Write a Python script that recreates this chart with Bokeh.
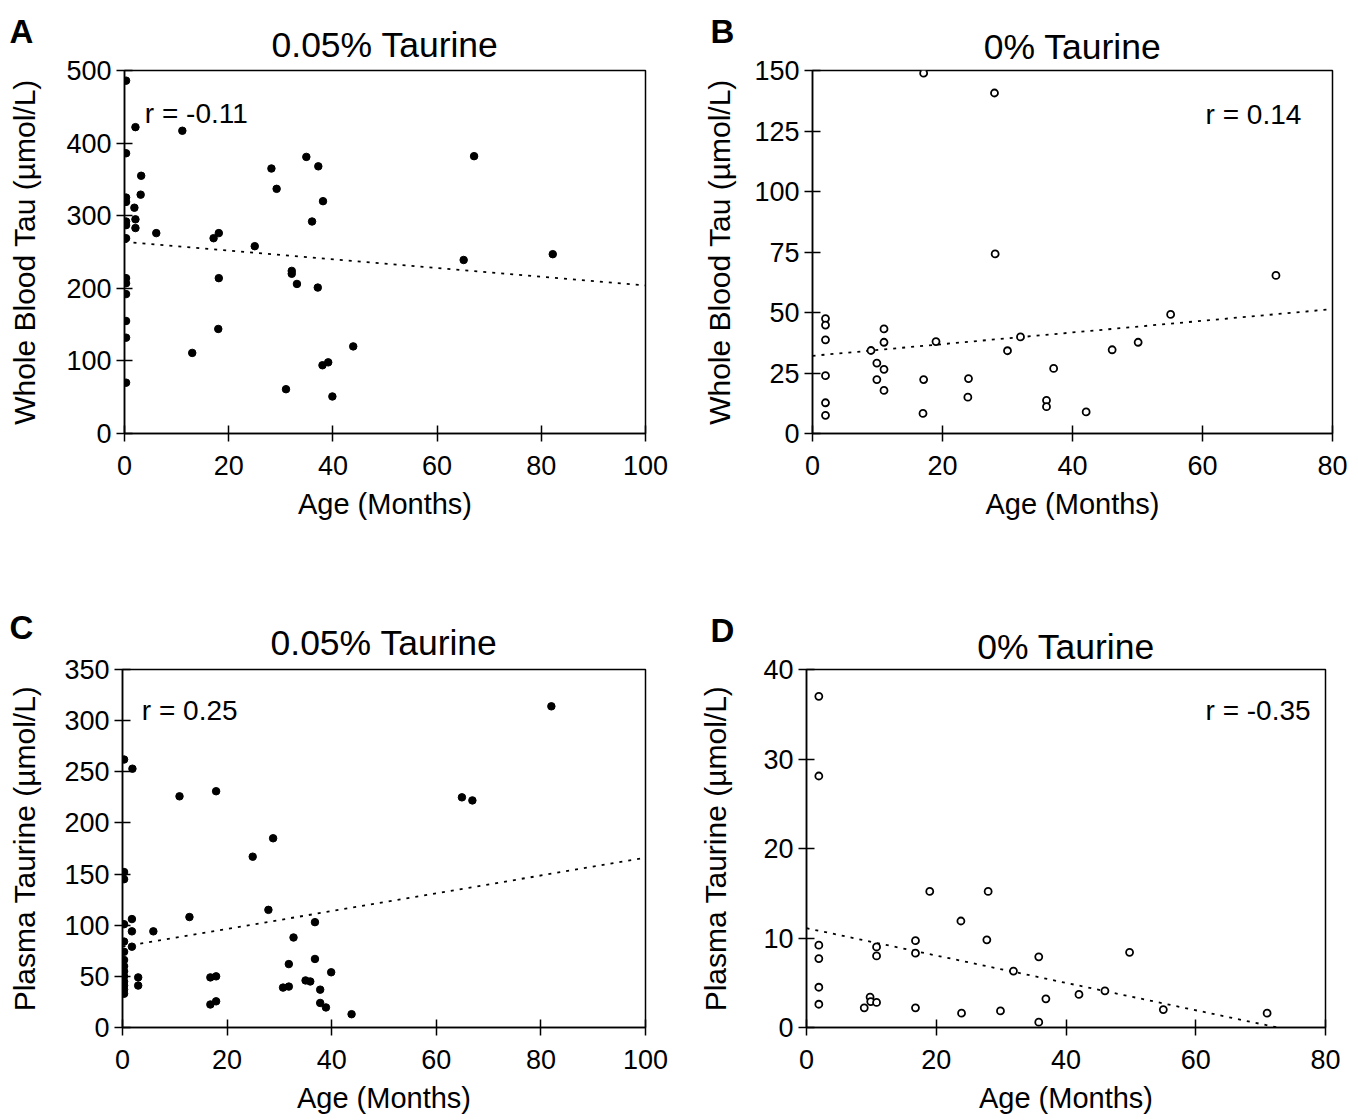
from bokeh.plotting import figure
from bokeh.layouts import row, column
from bokeh.models import Range1d, FixedTicker, Label, Title
from bokeh.embed import file_html
from bokeh.resources import INLINE

FONT = "Liberation Sans"

# ---------------- data ----------------
# Panel A: whole blood taurine, 0.05% taurine diet
a_age = [0.3, 0.3, 0.3, 0.3, 0.3, 0.3, 0.3, 0.3, 0.3, 0.3, 0.3, 0.3, 0.3,
         2.1, 11.1, 34.9, 3.2, 28.2, 29.2, 3.1, 1.9, 2.1, 2.1, 6.1, 17.1,
         18.1, 25.0, 32.1, 32.1, 33.1, 18.1, 18.0, 13.0, 31.0, 37.2, 38.1,
         36.0, 37.1, 43.9, 38.0, 39.1, 39.9, 67.1, 65.1, 82.2]
a_tau = [486, 386, 325, 319, 292, 287, 269, 214, 207, 192, 155, 132, 70,
         422, 417, 381, 355, 365, 337, 329, 311, 295, 283, 276, 269,
         276, 258, 224, 220, 206, 214, 144, 111, 61, 368, 320,
         292, 201, 120, 94, 98, 51, 382, 239, 247]
a_fit_age = [0, 100]
a_fit_tau = [264, 204]
a_r = "r = -0.11"

# Panel B: whole blood taurine, 0% taurine diet
b_age = [2, 2, 2, 2, 2, 2, 9, 11, 11, 9.9, 11, 9.9, 11, 17.1, 17, 19, 24,
         23.9, 30, 32, 36, 36, 37.1, 42.1, 46.1, 50.1, 55.1, 17.1, 28, 28.1, 71.3]
b_tau = [47.5, 44.8, 38.7, 23.9, 12.7, 7.5, 34.3, 43.2, 37.7, 29.1, 26.5, 22.3,
         17.8, 22.3, 8.3, 38, 22.7, 15, 34.2, 39.9, 13.7, 11.1, 26.9, 8.9,
         34.6, 37.7, 49.2, 148.9, 140.7, 74.2, 65.3]
b_fit_age = [0, 80]
b_fit_tau = [32.1, 51.4]
b_r = "r = 0.14"

# Panel C: plasma taurine, 0.05% taurine diet
c_age = [0.3, 0.3, 0.3, 0.3, 0.3, 0.3, 0.3, 0.3, 0.3, 0.3, 0.3, 0.3, 0.3, 0.3,
         1.9, 10.9, 17.9, 28.8, 24.9, 27.9, 12.8, 1.8, 1.8, 5.9, 32.7, 1.8,
         31.8, 3.0, 3.0, 16.8, 17.9, 16.8, 17.9, 30.7, 31.8, 35.0, 35.9,
         36.8, 36.8, 39.9, 37.8, 37.8, 38.9, 43.8, 64.9, 66.9, 82.0]
c_tau = [262, 152, 145, 101, 84, 74, 66, 60, 55, 50, 45, 41, 37, 33,
         253, 226, 231, 185, 167, 115, 108, 106, 94, 94, 88, 79,
         62, 49, 41, 22.5, 25.6, 49, 50, 39, 40, 46, 45,
         103, 67, 54, 37, 24, 19.6, 13, 225, 222, 314]
c_fit_age = [0, 100]
c_fit_tau = [79, 166]
c_r = "r = 0.25"

# Panel D: plasma taurine, 0% taurine diet
d_age = [1.9, 1.9, 1.9, 1.9, 1.9, 1.9, 8.9, 9.8, 9.9, 10.8, 10.8, 10.8, 16.8,
         16.8, 16.8, 19, 28, 23.8, 23.9, 27.8, 29.9, 31.9, 35.8, 36.9, 35.8,
         42, 46, 49.8, 55, 71]
d_tau = [37.0, 28.1, 9.2, 7.7, 4.5, 2.6, 2.2, 3.4, 2.9, 2.8, 9.0, 8.0, 9.7,
         8.3, 2.2, 15.2, 15.2, 11.9, 1.6, 9.8, 1.85, 6.3, 7.9, 3.2, 0.6,
         3.7, 4.1, 8.4, 2.0, 1.6]
d_fit_age = [0, 72.6]
d_fit_tau = [11.1, 0]
d_r = "r = -0.35"

titles = ["0.05% Taurine", "0% Taurine", "0.05% Taurine", "0% Taurine"]
letters = ["A", "B", "C", "D"]
x_label = "Age (Months)"
y_label_blood = "Whole Blood Tau (\u00b5mol/L)"
y_label_plasma = "Plasma Taurine (\u00b5mol/L)"
x_ticks_100 = [0, 20, 40, 60, 80, 100]
x_ticks_80 = [0, 20, 40, 60, 80]
a_y_ticks = [0, 100, 200, 300, 400, 500]
b_y_ticks = [0, 25, 50, 75, 100, 125, 150]
c_y_ticks = [0, 50, 100, 150, 200, 250, 300, 350]
d_y_ticks = [0, 10, 20, 30, 40]


def panel(width, height, bl, br, bt, bb, xmax, ymax, xticks, yticks, ylabel,
          title, letter, letter_offset, letter_standoff, title_standoff,
          ax, ay, fx, fy, rtext, rxy, ralign, filled, ylabel_standoff):
    p = figure(width=width, height=height, output_backend="svg",
               toolbar_location=None, x_range=Range1d(0, xmax),
               y_range=Range1d(0, ymax), min_border_left=bl,
               min_border_right=br, min_border_top=bt, min_border_bottom=bb,
               title=letter)
    # panel letter (outer title row, left of the frame)
    p.title.align = "left"
    p.title.vertical_align = "bottom"
    p.title.offset = letter_offset
    p.title.standoff = letter_standoff
    p.title.text_font = FONT
    p.title.text_font_size = "33px"
    p.title.text_font_style = "bold"
    p.title.text_color = "black"
    # panel title (inner title row)
    p.add_layout(Title(text=title, align="center", vertical_align="bottom",
                       standoff=title_standoff, text_font=FONT,
                       text_font_size="35.5px", text_font_style="normal",
                       text_color="black"), "above")
    p.grid.visible = False
    p.outline_line_color = "black"
    p.outline_line_width = 1.5
    p.background_fill_color = "white"
    p.border_fill_color = "white"
    for axis in (p.xaxis[0], p.yaxis[0]):
        axis.axis_line_width = 1.5
        axis.axis_line_color = "black"
        axis.major_tick_line_width = 1.5
        axis.major_tick_line_color = "black"
        axis.major_tick_in = 8
        axis.major_tick_out = 8
        axis.minor_tick_line_color = None
        axis.major_label_text_font = FONT
        axis.major_label_text_font_size = "27px"
        axis.major_label_text_color = "black"
        axis.axis_label_text_font = FONT
        axis.axis_label_text_font_style = "normal"
        axis.axis_label_text_color = "black"
    p.xaxis.axis_label_text_font_size = "29px"
    p.yaxis.axis_label_text_font_size = "30px"
    p.xaxis.ticker = FixedTicker(ticks=xticks)
    p.yaxis.ticker = FixedTicker(ticks=yticks)
    p.xaxis.axis_label = x_label
    p.yaxis.axis_label = ylabel
    p.xaxis.major_label_standoff = 14
    p.xaxis.axis_label_standoff = 10
    p.yaxis.major_label_standoff = 5
    p.yaxis.axis_label_standoff = ylabel_standoff

    p.line(fx, fy, line_color="black", line_width=1.8, line_dash="3 6")
    if filled:
        p.scatter(ax, ay, size=7.5, marker="circle", fill_color="black",
                  line_color="black", line_width=1)
    else:
        p.scatter(ax, ay, size=7, marker="circle", fill_color="white",
                  line_color="black", line_width=1.8)

    p.add_layout(Label(x=rxy[0], y=rxy[1], text=rtext, text_font=FONT,
                       text_font_size="28px", text_align=ralign,
                       text_baseline="alphabetic", text_color="black"))
    return p


pa = panel(688, 578, 124, 43, 67, 145, 100, 500, x_ticks_100, a_y_ticks,
           y_label_blood, titles[0], letters[0], -115, -65, 11,
           a_age, a_tau, a_fit_age, a_fit_tau, a_r, (3.9, 441), "left", True, 22)
pb = panel(662, 578, 124, 18, 70, 142, 80, 150, x_ticks_80, b_y_ticks,
           y_label_blood, titles[1], letters[1], -102, -57, 7,
           b_age, b_tau, b_fit_age, b_fit_tau, b_r, (75.2, 132), "right", False, 15)
pc = panel(688, 538, 122, 43, 85, 83, 100, 350, x_ticks_100, c_y_ticks,
           y_label_plasma, titles[2], letters[2], -113, -63, 13,
           c_age, c_tau, c_fit_age, c_fit_tau, c_r, (3.7, 310), "left", True, 20)
pd = panel(662, 538, 118, 25, 91, 80, 80, 40, x_ticks_80, d_y_ticks,
           y_label_plasma, titles[3], letters[3], -96, -53, 5,
           d_age, d_tau, d_fit_age, d_fit_tau, d_r, (77.7, 35.4), "right", False, 28)

layout = column(row(pa, pb), row(pc, pd))
open("out.html", "w").write(file_html(layout, INLINE))
